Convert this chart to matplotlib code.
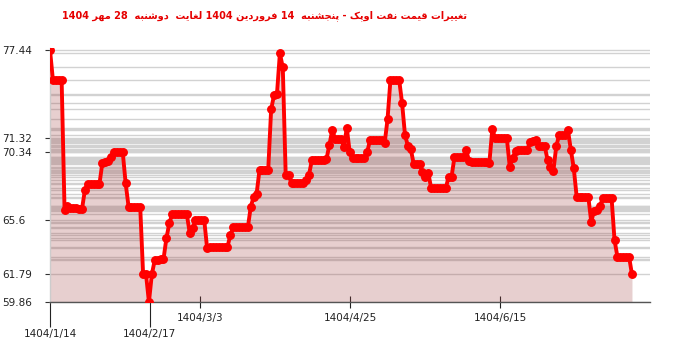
import matplotlib
matplotlib.use('Agg')
import matplotlib.pyplot as plt
import numpy as np

# daily OPEC basket price, 1404/1/14 .. 1404/7/28
prices = [
    77.44, 75.35, 75.35, 75.35, 75.35, 66.28, 66.58, 66.45, 66.40, 66.40,
    66.35, 66.35, 67.68, 68.10, 68.10, 68.10, 68.10, 68.10, 69.58, 69.65,
    69.72, 70.00, 70.30, 70.30, 70.30, 70.30, 68.14, 66.51, 66.51, 66.51,
    66.51, 66.51, 61.79, 61.79, 59.86, 61.79, 62.79, 62.79, 62.84, 62.84,
    64.30, 65.35, 66.00, 66.00, 66.00, 66.00, 66.00, 66.00, 64.70, 65.00,
    65.58, 65.58, 65.58, 65.58, 63.60, 63.72, 63.72, 63.72, 63.72, 63.72,
    63.72, 63.72, 64.54, 65.07, 65.07, 65.07, 65.07, 65.07, 65.07, 66.51,
    67.20, 67.40, 69.07, 69.10, 69.10, 69.10, 73.30, 74.30, 74.37, 77.20,
    76.24, 68.72, 68.72, 68.14, 68.14, 68.14, 68.14, 68.14, 68.37, 68.72,
    69.77, 69.80, 69.80, 69.80, 69.80, 69.82, 70.80, 71.86, 71.23, 71.23,
    71.23, 70.70, 72.00, 70.31, 69.88, 69.88, 69.88, 69.88, 69.88, 70.31,
    71.17, 71.17, 71.17, 71.17, 71.17, 70.93, 72.61, 75.35, 75.35, 75.35,
    75.35, 73.73, 71.51, 70.75, 70.52, 69.49, 69.49, 69.49, 68.91, 68.60,
    68.88, 67.79, 67.79, 67.79, 67.79, 67.79, 67.79, 68.60, 68.60, 69.96,
    69.96, 69.96, 69.96, 70.47, 69.72, 69.60, 69.60, 69.60, 69.60, 69.60,
    69.60, 69.58, 71.91, 71.28, 71.28, 71.28, 71.28, 71.28, 69.30, 69.88,
    70.42, 70.45, 70.45, 70.45, 70.47, 71.05, 71.10, 71.17, 70.75, 70.75,
    70.75, 69.77, 69.30, 69.02, 70.75, 71.51, 71.51, 71.51, 71.86, 70.47,
    69.19, 67.20, 67.20, 67.20, 67.20, 67.20, 65.46, 66.23, 66.28, 66.56,
    67.10, 67.10, 67.10, 67.10, 64.19, 63.02, 63.02, 63.02, 63.02, 63.02,
    61.79,
]
x = np.arange(len(prices))

xtick_pos = [0, 34.3, 51.6, 103.2, 154.8]
xtick_labels = ['1404/1/14', '1404/2/17', '1404/3/3', '1404/4/25', '1404/6/15']
xtick_low = [True, True, False, False, False]
ytick_vals = [59.86, 61.79, 65.6, 70.34, 71.32, 77.44]
title = 'تغییرات قیمت نفت اوپک - پنجشنبه  14 فروردین 1404 لغایت  دوشنبه  28 مهر 1404'

# minimal persian shaping (isolated, final, initial, medial)
FORMS = {
    'ا': ('\uFE8D', '\uFE8E', None, None),
    'ب': ('\uFE8F', '\uFE90', '\uFE91', '\uFE92'),
    'ت': ('\uFE95', '\uFE96', '\uFE97', '\uFE98'),
    'ج': ('\uFE9D', '\uFE9E', '\uFE9F', '\uFEA0'),
    'د': ('\uFEA9', '\uFEAA', None, None),
    'ر': ('\uFEAD', '\uFEAE', None, None),
    'ش': ('\uFEB5', '\uFEB6', '\uFEB7', '\uFEB8'),
    'غ': ('\uFECD', '\uFECE', '\uFECF', '\uFED0'),
    'ف': ('\uFED1', '\uFED2', '\uFED3', '\uFED4'),
    'ق': ('\uFED5', '\uFED6', '\uFED7', '\uFED8'),
    'ل': ('\uFEDD', '\uFEDE', '\uFEDF', '\uFEE0'),
    'م': ('\uFEE1', '\uFEE2', '\uFEE3', '\uFEE4'),
    'ن': ('\uFEE5', '\uFEE6', '\uFEE7', '\uFEE8'),
    'ه': ('\uFEE9', '\uFEEA', '\uFEEB', '\uFEEC'),
    'و': ('\uFEED', '\uFEEE', None, None),
    'پ': ('\uFB56', '\uFB57', '\uFB58', '\uFB59'),
    'ک': ('\uFB8E', '\uFB8F', '\uFB90', '\uFB91'),
    'ی': ('\uFBFC', '\uFBFD', '\uFBFE', '\uFBFF'),
}


def shape_word(w):
    out = []
    for i, ch in enumerate(w):
        if ch not in FORMS:
            out.append(ch)
            continue
        iso, fin, ini, med = FORMS[ch]
        prev = w[i - 1] if i > 0 else ''
        nxt = w[i + 1] if i + 1 < len(w) else ''
        jp = prev in FORMS and FORMS[prev][2] is not None
        jn = ini is not None and nxt in FORMS
        if jp and jn:
            out.append(med)
        elif jp:
            out.append(fin)
        elif jn:
            out.append(ini)
        else:
            out.append(iso)
    return ''.join(out)


def rtl(text):
    vis = []
    for w in reversed(text.split(' ')):
        if any(c in FORMS for c in w):
            vis.append(shape_word(w)[::-1])
        else:
            vis.append(w)
    return ' '.join(vis)


fig = plt.figure(figsize=(7, 3.52), dpi=100)
ax = fig.add_axes([50 / 700, 50 / 352, 600 / 700, 254 / 352])

for v in sorted(set(prices)):
    ax.axhline(v, color='#d2d2d2', lw=1, zorder=1)

ax.fill_between(x, prices, 59.86, color='#a04040', alpha=0.25, lw=0, zorder=2)
ax.plot(x, prices, color='#ff0000', lw=2.8, marker='o', ms=5.4, zorder=4)

ax.set_xlim(0, 206.2)
ax.set_ylim(59.86, 77.58)

ax.set_yticks(ytick_vals, [str(v) for v in ytick_vals])
ax.tick_params(axis='y', length=3.3, width=0.8, color='#333333', labelsize=7.5,
               labelcolor='#222222', pad=31.2)
for lab in ax.get_yticklabels():
    lab.set_ha('left')

ax.set_xticks(xtick_pos, xtick_labels)
ax.tick_params(axis='x', direction='inout', length=8, width=0.8, color='#222222',
               labelsize=7.5, labelcolor='#222222', pad=4)
for tk, low in zip(ax.xaxis.get_major_ticks(), xtick_low):
    if low:
        tk._apply_params(tickdir='out', size=18, pad=1.8)
    if low and tk.get_loc() == 0:
        tk.tick1line.set_color('#cccccc')

for s in ['top', 'right']:
    ax.spines[s].set_visible(False)
ax.spines['left'].set_color('#cccccc')
ax.spines['left'].set_linewidth(1)
ax.spines['bottom'].set_color('#555555')
ax.spines['bottom'].set_linewidth(1)

fig.text(264 / 700, 1 - 16 / 352, rtl(title), color='#e60000', fontsize=7,
         fontweight='bold', ha='center', va='center', family='DejaVu Sans')

fig.savefig('out.png', dpi=100)
